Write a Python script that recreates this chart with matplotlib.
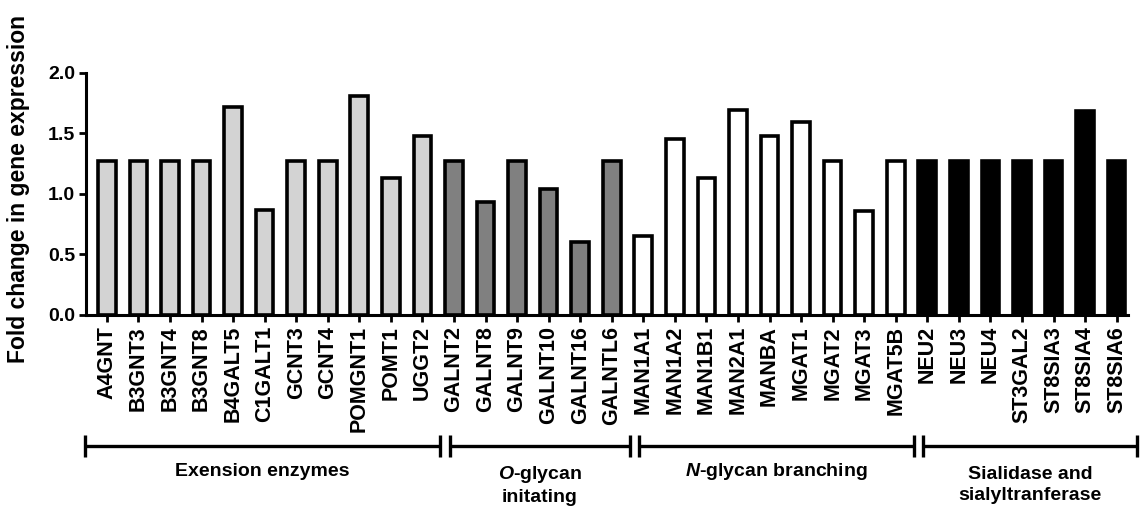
import matplotlib
matplotlib.use("Agg")
import matplotlib.pyplot as plt
from matplotlib.lines import Line2D
from matplotlib.transforms import blended_transform_factory

plt.rcParams["font.family"] = ["Liberation Sans", "DejaVu Sans"]
plt.rcParams["font.weight"] = "bold"
plt.rcParams["mathtext.fontset"] = "custom"
plt.rcParams["mathtext.it"] = "Liberation Sans:italic:bold"
plt.rcParams["mathtext.rm"] = "Liberation Sans:bold"

# Genes per functional group and their fold changes
extension_genes = ["A4GNT", "B3GNT3", "B3GNT4", "B3GNT8", "B4GALT5", "C1GALT1",
                   "GCNT3", "GCNT4", "POMGNT1", "POMT1", "UGGT2"]
extension_fc = [1.27, 1.27, 1.27, 1.27, 1.72, 0.87, 1.27, 1.27, 1.81, 1.13, 1.48]

oglycan_genes = ["GALNT2", "GALNT8", "GALNT9", "GALNT10", "GALNT16", "GALNTL6"]
oglycan_fc = [1.27, 0.93, 1.27, 1.04, 0.60, 1.27]

nglycan_genes = ["MAN1A1", "MAN1A2", "MAN1B1", "MAN2A1", "MANBA", "MGAT1",
                 "MGAT2", "MGAT3", "MGAT5B"]
nglycan_fc = [0.65, 1.45, 1.13, 1.69, 1.48, 1.59, 1.27, 0.86, 1.27]

sialic_genes = ["NEU2", "NEU3", "NEU4", "ST3GAL2", "ST8SIA3", "ST8SIA4", "ST8SIA6"]
sialic_fc = [1.27, 1.27, 1.27, 1.27, 1.27, 1.68, 1.27]

group_titles = ["Exension enzymes",
                "$\\mathit{O}$-glycan\ninitating",
                "$\\mathit{N}$-glycan branching",
                "Sialidase and\nsialyltranferase"]
group_colors = ["#d3d3d3", "#808080", "#ffffff", "#000000"]

groups = [(extension_genes, extension_fc), (oglycan_genes, oglycan_fc),
          (nglycan_genes, nglycan_fc), (sialic_genes, sialic_fc)]

fig = plt.figure(figsize=(11.44, 5.08), dpi=100)
ax = fig.add_axes([0.0752, 0.380, 0.9108, 0.477])

labels, values, colors, spans = [], [], [], []
for (genes, fc), col in zip(groups, group_colors):
    start = len(labels)
    labels += genes
    values += fc
    colors += [col] * len(genes)
    spans.append((start, len(labels) - 1))

x = list(range(len(labels)))
ax.bar(x, values, width=0.56, color=colors, edgecolor="black", linewidth=2.6)

ax.set_xlim(-0.66, len(labels) - 1 + 0.36)
ax.set_ylim(0, 2.0)
ax.set_yticks([0.0, 0.5, 1.0, 1.5, 2.0])
ax.set_yticklabels(["0.0", "0.5", "1.0", "1.5", "2.0"], fontsize=14, fontweight="bold")
ax.set_xticks(x)
ax.set_xticklabels(labels, rotation=90, fontsize=15.5, fontweight="bold")
ax.tick_params(axis="both", direction="out", length=5, width=2, pad=3)

for side in ("top", "right"):
    ax.spines[side].set_visible(False)
for side in ("left", "bottom"):
    ax.spines[side].set_linewidth(2.2)

ax.set_ylabel("Fold change in gene expression", fontsize=16.5, fontweight="bold")
ax.yaxis.set_label_coords(-0.054, 0.52)

# Group brackets below the gene names
trans = blended_transform_factory(ax.transData, fig.transFigure)
y_line, y_lo, y_hi = 0.1226, 0.1004, 0.1437
y_text1, y_text2 = 1 - 472 / 508, 1 - 485 / 508
x_left = ax.get_xlim()[0] - 0.03
x_right = len(labels) - 1 + 0.64
offset, half_gap = 0.22, 0.15
edges = []
for k, (s, e) in enumerate(spans):
    lo = x_left if k == 0 else s - 0.5 + offset + half_gap
    hi = x_right if k == len(spans) - 1 else e + 0.5 + offset - half_gap
    edges.append((lo, hi))

for (lo, hi), title in zip(edges, group_titles):
    for xs, ys in (([lo, hi], [y_line, y_line]), ([lo, lo], [y_lo, y_hi]),
                   ([hi, hi], [y_lo, y_hi])):
        fig.add_artist(Line2D(xs, ys, transform=trans, color="black",
                              linewidth=2.4, solid_capstyle="butt"))
    yt = y_text1 if "\n" not in title else y_text2
    fig.text((lo + hi) / 2, yt, title, transform=trans, ha="center", va="center",
             fontsize=14, fontweight="bold", linespacing=1.3)

fig.savefig("out.png", dpi=100)
